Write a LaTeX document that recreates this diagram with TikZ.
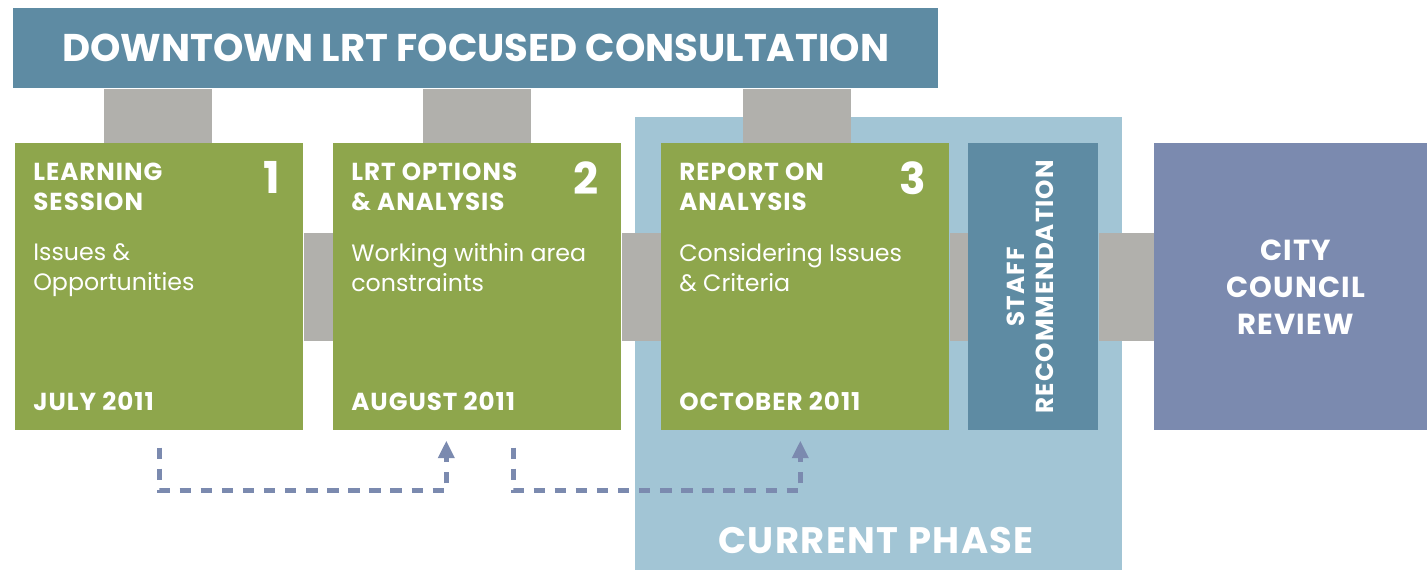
\documentclass[tikz,border=0pt]{standalone}
\usepackage{fontspec}
\setmainfont{Poppins}
\newfontfamily\widefont{Poppins}[LetterSpace=4]
\usepackage{xcolor}
\usetikzlibrary{arrows.meta, positioning, calc}

\definecolor{bannerblue}{HTML}{5E8BA3}
\definecolor{stagegreen}{HTML}{8EA64C}
\definecolor{linkgray}{HTML}{B1B0AC}
\definecolor{phaseblue}{HTML}{A2C5D5}
\definecolor{councilblue}{HTML}{7B8AAF}

\tikzset{
  stage/.style={fill=stagegreen, minimum width=5.76cm, minimum height=5.74cm, inner sep=0, anchor=north west},
  stagetitle/.style={text=white, inner sep=0, align=left, font=\widefont\fontsize{14}{17}\selectfont\bfseries},
  stagenum/.style={text=white, inner sep=0, font=\fontsize{25}{25}\selectfont\bfseries},
  stagebody/.style={text=white, inner sep=0, align=left, font=\fontsize{13.5}{17}\selectfont},
  stagedate/.style={text=white, inner sep=0, font=\widefont\fontsize{14}{17}\selectfont\bfseries},
  link/.style={fill=linkgray},
  flow/.style={draw=councilblue, line width=2.8pt, dash pattern=on 6.5pt off 5.5pt, -{Triangle[length=10pt, width=9pt]}}
}

\begin{document}
\begin{tikzpicture}[x=0.02cm, y=-0.02cm]
\useasboundingbox (0,0) rectangle (1427,570);

% Current phase backdrop
\fill[phaseblue] (635,117) rectangle (1122,570);
\node[text=white, font=\widefont\fontsize{21}{21}\selectfont\bfseries] (phase) at (876,540) {CURRENT PHASE};

% Title banner
\node[fill=bannerblue, minimum width=18.5cm, minimum height=1.6cm, inner sep=0, anchor=north west,
      text=white, font=\fontsize{22}{22}\selectfont\bfseries] (banner) at (13,8) {DOWNTOWN LRT FOCUSED CONSULTATION};

% Stages
\node[stage] (s1) at (15,143) {};
\node[stage] (s2) at (333,143) {};
\node[stage] (s3) at (661,143) {};
\node[fill=bannerblue, minimum width=2.6cm, minimum height=5.74cm, inner sep=0, anchor=north west] (staff) at (968,143) {};
\node[fill=councilblue, minimum width=5.46cm, minimum height=5.74cm, inner sep=0, anchor=north west] (council) at (1154,143) {};

% Banner supports
\fill[link] ([xshift=-1.1cm]banner.south -| s1.north) rectangle ([xshift=1.06cm]s1.north);
\fill[link] ([xshift=-1.08cm]banner.south -| s2.north) rectangle ([xshift=1.08cm]s2.north);
\fill[link] ([xshift=-1.24cm]banner.south -| s3.north) rectangle ([xshift=0.92cm]s3.north);

% Links between stages
\fill[link] ([yshift=1.08cm]s1.east) rectangle ([yshift=-1.08cm]s2.west);
\fill[link] ([yshift=1.08cm]s2.east) rectangle ([yshift=-1.08cm]s3.west);
\fill[link] ([yshift=1.08cm]s3.east) rectangle ([yshift=-1.08cm]staff.west);
\fill[link] ([yshift=1.08cm]staff.east) rectangle ([yshift=-1.08cm]council.west);

% Stage 1
\node[stagetitle, below right=0.4cm and 0.36cm of s1.north west] (s1t) {LEARNING\\SESSION};
\node[stagenum, below left=0.36cm and 0.46cm of s1.north east] (s1n) {1};
\node[stagebody, below right=2cm and 0.36cm of s1.north west] (s1b) {Issues \&\\Opportunities};
\node[stagedate, above right=0.4cm and 0.36cm of s1.south west] (s1d) {JULY 2011};

% Stage 2
\node[stagetitle, below right=0.4cm and 0.36cm of s2.north west] (s2t) {LRT OPTIONS\\\& ANALYSIS};
\node[stagenum, below left=0.36cm and 0.46cm of s2.north east] (s2n) {2};
\node[stagebody, below right=2cm and 0.36cm of s2.north west] (s2b) {Working within area\\constraints};
\node[stagedate, above right=0.4cm and 0.36cm of s2.south west] (s2d) {AUGUST 2011};

% Stage 3
\node[stagetitle, below right=0.4cm and 0.36cm of s3.north west] (s3t) {REPORT ON\\ANALYSIS};
\node[stagenum, below left=0.36cm and 0.46cm of s3.north east] (s3n) {3};
\node[stagebody, below right=2cm and 0.36cm of s3.north west] (s3b) {Considering Issues\\\& Criteria};
\node[stagedate, above right=0.4cm and 0.36cm of s3.south west] (s3d) {OCTOBER 2011};

% Staff and council
\node[stagetitle, rotate=90, align=center] (stafft) at ([xshift=-0.06cm]staff.center) {STAFF\\RECOMMENDATION};
\node[text=white, align=center, inner sep=0, font=\widefont\fontsize{16.5}{21}\selectfont\bfseries] (councilt) at ([xshift=0.1cm]council.center) {CITY\\COUNCIL\\REVIEW};

% Feedback arrows
\coordinate (f1a) at ([yshift=-0.34cm]s1.south);
\coordinate (f1b) at ([xshift=-0.62cm, yshift=-0.2cm]s2.south);
\coordinate (f2a) at ([xshift=0.72cm, yshift=-0.34cm]s2.south);
\coordinate (f2b) at ([xshift=-0.1cm, yshift=-0.2cm]s3.south);
\draw[flow] (f1a) |- ([yshift=-1cm]f1b) -- (f1b);
\draw[flow] (f2a) |- ([yshift=-1cm]f2b) -- (f2b);
\end{tikzpicture}
\end{document}
